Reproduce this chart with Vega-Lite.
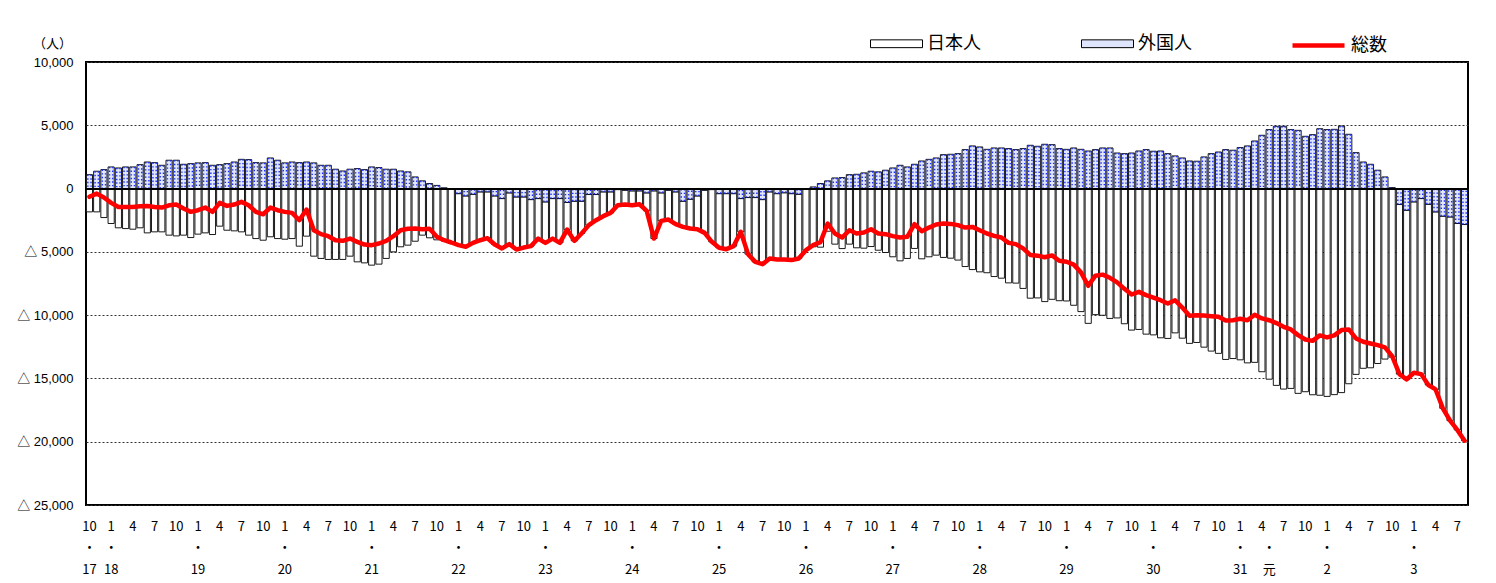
{
"$schema": "https://vega.github.io/schema/vega-lite/v6.json",
"width": 1382, "height": 443,
"autosize": {"type": "none"},
"padding": {"left": 86, "top": 62, "right": 28, "bottom": 78},
"background": "#ffffff",
"config": {"font": "Noto Sans CJK JP", "view": {"stroke": "#000000", "strokeWidth": 2},
"legend": {"labelFontSize": 18, "labelFont": "Noto Sans CJK JP", "labelColor": "#000000"}},
"datasets": {"d": [
{"month":"2005-10","japanese":-1840,"foreign":1100,"total":-650},
{"month":"2005-11","japanese":-1840,"foreign":1370,"total":-400},
{"month":"2005-12","japanese":-2290,"foreign":1500,"total":-710},
{"month":"2006-01","japanese":-2760,"foreign":1710,"total":-1130},
{"month":"2006-02","japanese":-3100,"foreign":1630,"total":-1450},
{"month":"2006-03","japanese":-3160,"foreign":1710,"total":-1450},
{"month":"2006-04","japanese":-3210,"foreign":1710,"total":-1450},
{"month":"2006-05","japanese":-3100,"foreign":1890,"total":-1400},
{"month":"2006-06","japanese":-3500,"foreign":2100,"total":-1370},
{"month":"2006-07","japanese":-3420,"foreign":2050,"total":-1450},
{"month":"2006-08","japanese":-3420,"foreign":1840,"total":-1500},
{"month":"2006-09","japanese":-3680,"foreign":2240,"total":-1320},
{"month":"2006-10","japanese":-3740,"foreign":2240,"total":-1260},
{"month":"2006-11","japanese":-3680,"foreign":1920,"total":-1580},
{"month":"2006-12","japanese":-3870,"foreign":1970,"total":-1840},
{"month":"2007-01","japanese":-3600,"foreign":2030,"total":-1710},
{"month":"2007-02","japanese":-3500,"foreign":2050,"total":-1500},
{"month":"2007-03","japanese":-3630,"foreign":1840,"total":-1840},
{"month":"2007-04","japanese":-2970,"foreign":1890,"total":-1130},
{"month":"2007-05","japanese":-3290,"foreign":1970,"total":-1370},
{"month":"2007-06","japanese":-3340,"foreign":2100,"total":-1260},
{"month":"2007-07","japanese":-3420,"foreign":2310,"total":-1050},
{"month":"2007-08","japanese":-3680,"foreign":2290,"total":-1320},
{"month":"2007-09","japanese":-3950,"foreign":2050,"total":-1840},
{"month":"2007-10","japanese":-4080,"foreign":2030,"total":-2030},
{"month":"2007-11","japanese":-3810,"foreign":2420,"total":-1500},
{"month":"2007-12","japanese":-3950,"foreign":2240,"total":-1710},
{"month":"2008-01","japanese":-4000,"foreign":2030,"total":-1840},
{"month":"2008-02","japanese":-3950,"foreign":2100,"total":-1920},
{"month":"2008-03","japanese":-4550,"foreign":2050,"total":-2500},
{"month":"2008-04","japanese":-3760,"foreign":2100,"total":-1660},
{"month":"2008-05","japanese":-5340,"foreign":2030,"total":-3290},
{"month":"2008-06","japanese":-5520,"foreign":1840,"total":-3600},
{"month":"2008-07","japanese":-5600,"foreign":1840,"total":-3760},
{"month":"2008-08","japanese":-5600,"foreign":1530,"total":-4080},
{"month":"2008-09","japanese":-5600,"foreign":1390,"total":-4130},
{"month":"2008-10","japanese":-5340,"foreign":1530,"total":-3950},
{"month":"2008-11","japanese":-5790,"foreign":1580,"total":-4210},
{"month":"2008-12","japanese":-5870,"foreign":1500,"total":-4420},
{"month":"2009-01","japanese":-6050,"foreign":1710,"total":-4470},
{"month":"2009-02","japanese":-5970,"foreign":1660,"total":-4340},
{"month":"2009-03","japanese":-5520,"foreign":1530,"total":-4130},
{"month":"2009-04","japanese":-5000,"foreign":1530,"total":-3760},
{"month":"2009-05","japanese":-4600,"foreign":1390,"total":-3290},
{"month":"2009-06","japanese":-4470,"foreign":1320,"total":-3180},
{"month":"2009-07","japanese":-4160,"foreign":920,"total":-3160},
{"month":"2009-08","japanese":-3680,"foreign":610,"total":-3210},
{"month":"2009-09","japanese":-3890,"foreign":400,"total":-3180},
{"month":"2009-10","japanese":-4050,"foreign":250,"total":-3800},
{"month":"2009-11","japanese":-4140,"foreign":60,"total":-4080},
{"month":"2009-12","japanese":-4200,"foreign":-60,"total":-4260},
{"month":"2010-01","japanese":-4070,"foreign":-400,"total":-4470},
{"month":"2010-02","japanese":-4020,"foreign":-580,"total":-4600},
{"month":"2010-03","japanese":-3840,"foreign":-450,"total":-4290},
{"month":"2010-04","japanese":-3820,"foreign":-260,"total":-4080},
{"month":"2010-05","japanese":-3660,"foreign":-260,"total":-3920},
{"month":"2010-06","japanese":-3840,"foreign":-580,"total":-4420},
{"month":"2010-07","japanese":-3940,"foreign":-790,"total":-4730},
{"month":"2010-08","japanese":-4050,"foreign":-340,"total":-4390},
{"month":"2010-09","japanese":-4150,"foreign":-660,"total":-4810},
{"month":"2010-10","japanese":-4000,"foreign":-660,"total":-4660},
{"month":"2010-11","japanese":-3680,"foreign":-870,"total":-4550},
{"month":"2010-12","japanese":-3160,"foreign":-790,"total":-3950},
{"month":"2011-01","japanese":-3240,"foreign":-1050,"total":-4290},
{"month":"2011-02","japanese":-3160,"foreign":-790,"total":-3950},
{"month":"2011-03","japanese":-3500,"foreign":-790,"total":-4290},
{"month":"2011-04","japanese":-2140,"foreign":-1100,"total":-3240},
{"month":"2011-05","japanese":-3130,"foreign":-1000,"total":-4130},
{"month":"2011-06","japanese":-2550,"foreign":-1000,"total":-3550},
{"month":"2011-07","japanese":-2420,"foreign":-470,"total":-2890},
{"month":"2011-08","japanese":-2030,"foreign":-470,"total":-2500},
{"month":"2011-09","japanese":-1920,"foreign":-260,"total":-2180},
{"month":"2011-10","japanese":-1660,"foreign":-260,"total":-1920},
{"month":"2011-11","japanese":-1240,"foreign":-80,"total":-1320},
{"month":"2011-12","japanese":-1130,"foreign":-130,"total":-1260},
{"month":"2012-01","japanese":-1140,"foreign":-180,"total":-1320},
{"month":"2012-02","japanese":-1060,"foreign":-180,"total":-1240},
{"month":"2012-03","japanese":-1420,"foreign":-340,"total":-1760},
{"month":"2012-04","japanese":-3770,"foreign":-180,"total":-3950},
{"month":"2012-05","japanese":-2210,"foreign":-340,"total":-2550},
{"month":"2012-06","japanese":-2320,"foreign":-130,"total":-2450},
{"month":"2012-07","japanese":-2550,"foreign":-260,"total":-2810},
{"month":"2012-08","japanese":-2030,"foreign":-1000,"total":-3030},
{"month":"2012-09","japanese":-2320,"foreign":-840,"total":-3160},
{"month":"2012-10","japanese":-2630,"foreign":-580,"total":-3210},
{"month":"2012-11","japanese":-3370,"foreign":-130,"total":-3500},
{"month":"2012-12","japanese":-4130,"foreign":-80,"total":-4210},
{"month":"2013-01","japanese":-4280,"foreign":-400,"total":-4680},
{"month":"2013-02","japanese":-4390,"foreign":-400,"total":-4790},
{"month":"2013-03","japanese":-4150,"foreign":-400,"total":-4550},
{"month":"2013-04","japanese":-2630,"foreign":-790,"total":-3420},
{"month":"2013-05","japanese":-4470,"foreign":-710,"total":-5180},
{"month":"2013-06","japanese":-5080,"foreign":-710,"total":-5790},
{"month":"2013-07","japanese":-5100,"foreign":-870,"total":-5970},
{"month":"2013-08","japanese":-5260,"foreign":-260,"total":-5520},
{"month":"2013-09","japanese":-5200,"foreign":-400,"total":-5600},
{"month":"2013-10","japanese":-5270,"foreign":-330,"total":-5600},
{"month":"2013-11","japanese":-5250,"foreign":-400,"total":-5650},
{"month":"2013-12","japanese":-5070,"foreign":-450,"total":-5520},
{"month":"2014-01","japanese":-4820,"foreign":-50,"total":-4870},
{"month":"2014-02","japanese":-4600,"foreign":130,"total":-4470},
{"month":"2014-03","japanese":-4630,"foreign":400,"total":-4230},
{"month":"2014-04","japanese":-3370,"foreign":610,"total":-2760},
{"month":"2014-05","japanese":-4390,"foreign":840,"total":-3550},
{"month":"2014-06","japanese":-4740,"foreign":870,"total":-3870},
{"month":"2014-07","japanese":-4390,"foreign":1100,"total":-3290},
{"month":"2014-08","japanese":-4680,"foreign":1130,"total":-3550},
{"month":"2014-09","japanese":-4710,"foreign":1240,"total":-3470},
{"month":"2014-10","japanese":-4580,"foreign":1370,"total":-3210},
{"month":"2014-11","japanese":-4870,"foreign":1320,"total":-3550},
{"month":"2014-12","japanese":-5050,"foreign":1450,"total":-3600},
{"month":"2015-01","japanese":-5390,"foreign":1630,"total":-3760},
{"month":"2015-02","japanese":-5710,"foreign":1840,"total":-3870},
{"month":"2015-03","japanese":-5520,"foreign":1710,"total":-3810},
{"month":"2015-04","japanese":-4730,"foreign":1920,"total":-2810},
{"month":"2015-05","japanese":-5550,"foreign":2180,"total":-3370},
{"month":"2015-06","japanese":-5390,"foreign":2310,"total":-3080},
{"month":"2015-07","japanese":-5260,"foreign":2420,"total":-2840},
{"month":"2015-08","japanese":-5440,"foreign":2680,"total":-2760},
{"month":"2015-09","japanese":-5500,"foreign":2710,"total":-2790},
{"month":"2015-10","japanese":-5650,"foreign":2760,"total":-2890},
{"month":"2015-11","japanese":-6160,"foreign":3080,"total":-3080},
{"month":"2015-12","japanese":-6400,"foreign":3370,"total":-3030},
{"month":"2016-01","japanese":-6580,"foreign":3290,"total":-3290},
{"month":"2016-02","japanese":-6650,"foreign":3100,"total":-3550},
{"month":"2016-03","japanese":-6950,"foreign":3210,"total":-3740},
{"month":"2016-04","japanese":-7080,"foreign":3210,"total":-3870},
{"month":"2016-05","japanese":-7450,"foreign":3160,"total":-4290},
{"month":"2016-06","japanese":-7470,"foreign":3080,"total":-4390},
{"month":"2016-07","japanese":-7890,"foreign":3160,"total":-4730},
{"month":"2016-08","japanese":-8660,"foreign":3420,"total":-5240},
{"month":"2016-09","japanese":-8640,"foreign":3340,"total":-5300},
{"month":"2016-10","japanese":-8930,"foreign":3500,"total":-5430},
{"month":"2016-11","japanese":-8750,"foreign":3470,"total":-5280},
{"month":"2016-12","japanese":-8860,"foreign":3160,"total":-5700},
{"month":"2017-01","japanese":-8880,"foreign":3100,"total":-5780},
{"month":"2017-02","japanese":-9220,"foreign":3210,"total":-6010},
{"month":"2017-03","japanese":-9720,"foreign":3100,"total":-6620},
{"month":"2017-04","japanese":-10650,"foreign":2970,"total":-7680},
{"month":"2017-05","japanese":-9960,"foreign":3080,"total":-6880},
{"month":"2017-06","japanese":-10010,"foreign":3210,"total":-6800},
{"month":"2017-07","japanese":-10260,"foreign":3210,"total":-7050},
{"month":"2017-08","japanese":-10220,"foreign":2810,"total":-7410},
{"month":"2017-09","japanese":-10680,"foreign":2760,"total":-7920},
{"month":"2017-10","japanese":-11180,"foreign":2810,"total":-8370},
{"month":"2017-11","japanese":-11130,"foreign":2970,"total":-8160},
{"month":"2017-12","japanese":-11500,"foreign":3080,"total":-8420},
{"month":"2018-01","japanese":-11560,"foreign":2950,"total":-8610},
{"month":"2018-02","japanese":-11790,"foreign":2970,"total":-8820},
{"month":"2018-03","japanese":-11840,"foreign":2760,"total":-9080},
{"month":"2018-04","japanese":-11400,"foreign":2580,"total":-8820},
{"month":"2018-05","japanese":-11820,"foreign":2420,"total":-9400},
{"month":"2018-06","japanese":-12230,"foreign":2180,"total":-10050},
{"month":"2018-07","japanese":-12160,"foreign":2160,"total":-10000},
{"month":"2018-08","japanese":-12530,"foreign":2500,"total":-10030},
{"month":"2018-09","japanese":-12840,"foreign":2760,"total":-10080},
{"month":"2018-10","japanese":-13020,"foreign":2890,"total":-10130},
{"month":"2018-11","japanese":-13500,"foreign":3080,"total":-10420},
{"month":"2018-12","japanese":-13430,"foreign":3030,"total":-10400},
{"month":"2019-01","japanese":-13530,"foreign":3240,"total":-10290},
{"month":"2019-02","japanese":-13770,"foreign":3370,"total":-10400},
{"month":"2019-03","japanese":-13730,"foreign":3760,"total":-9970},
{"month":"2019-04","japanese":-14470,"foreign":4210,"total":-10260},
{"month":"2019-05","japanese":-15060,"foreign":4660,"total":-10400},
{"month":"2019-06","japanese":-15550,"foreign":4920,"total":-10630},
{"month":"2019-07","japanese":-15840,"foreign":4920,"total":-10920},
{"month":"2019-08","japanese":-15790,"foreign":4660,"total":-11130},
{"month":"2019-09","japanese":-16180,"foreign":4600,"total":-11580},
{"month":"2019-10","japanese":-16050,"foreign":4130,"total":-11920},
{"month":"2019-11","japanese":-16290,"foreign":4260,"total":-12030},
{"month":"2019-12","japanese":-16330,"foreign":4730,"total":-11600},
{"month":"2020-01","japanese":-16420,"foreign":4660,"total":-11760},
{"month":"2020-02","japanese":-16280,"foreign":4680,"total":-11600},
{"month":"2020-03","japanese":-16120,"foreign":4940,"total":-11180},
{"month":"2020-04","japanese":-15420,"foreign":4290,"total":-11130},
{"month":"2020-05","japanese":-14680,"foreign":2840,"total":-11840},
{"month":"2020-06","japanese":-14200,"foreign":2100,"total":-12100},
{"month":"2020-07","japanese":-14160,"foreign":1920,"total":-12240},
{"month":"2020-08","japanese":-13820,"foreign":1450,"total":-12370},
{"month":"2020-09","japanese":-13470,"foreign":920,"total":-12550},
{"month":"2020-10","japanese":-13320,"foreign":80,"total":-13240},
{"month":"2020-11","japanese":-13400,"foreign":-1260,"total":-14660},
{"month":"2020-12","japanese":-13370,"foreign":-1710,"total":-15080},
{"month":"2021-01","japanese":-13500,"foreign":-1050,"total":-14550},
{"month":"2021-02","japanese":-13870,"foreign":-790,"total":-14660},
{"month":"2021-03","japanese":-14280,"foreign":-1240,"total":-15520},
{"month":"2021-04","japanese":-14030,"foreign":-1840,"total":-15870},
{"month":"2021-05","japanese":-15180,"foreign":-2180,"total":-17360},
{"month":"2021-06","japanese":-16100,"foreign":-2240,"total":-18340},
{"month":"2021-07","japanese":-16310,"foreign":-2760,"total":-19070},
{"month":"2021-08","japanese":-17080,"foreign":-2840,"total":-19920}
]},
"data": {"name": "d"},
"layer": [
{
"transform": [{"fold": ["japanese", "foreign"], "as": ["series", "value"]}],
"mark": {"type": "bar", "stroke": "#000000", "strokeWidth": 0.9},
"encoding": {
"x": {"field": "month", "type": "ordinal", "scale": {"paddingInner": 0.15, "paddingOuter": 0.05},
"axis": {"title": null, "labelAngle": 0, "ticks": false, "domain": false, "grid": false, "labelPadding": 15, "labelLineHeight": 21.5, "labelFontSize": 13, "labelFont": "Liberation Sans Narrow, Noto Sans CJK JP", "labelColor": "#000000", "labelOverlap": false, "labelBound": false, "labelFlush": false, "labelAlign": "center", "labelBaseline": "top",
"labelExpr": "[ (toNumber(substring(datum.value,5,7)) % 3 == 1) ? toString(toNumber(substring(datum.value,5,7))) : '', (substring(datum.value,5,7) == '01' || datum.value == '2005-10' || datum.value == '2019-05') ? '・' : '', datum.value == '2005-10' ? '17' : (datum.value == '2019-05' ? '元' : (substring(datum.value,5,7) == '01' ? (toNumber(substring(datum.value,0,4)) <= 2019 ? toString(toNumber(substring(datum.value,0,4)) - 1988) : toString(toNumber(substring(datum.value,0,4)) - 2018)) : '')) ]"}},
"y": {"field": "value", "type": "quantitative", "stack": "zero", "title": "（人）",
"scale": {"domain": [-25000, 10000], "nice": false, "zero": false},
"axis": {"values": [-25000, -20000, -15000, -10000, -5000, 0, 5000, 10000], "labelExpr": "datum.value < 0 ? '△ ' + format(-datum.value, ',') : format(datum.value, ',')", "grid": true, "gridDash": [2, 2], "gridColor": "#333333", "gridWidth": 1, "ticks": false, "domain": false, "labelFontSize": 13, "labelFont": "Liberation Sans, Noto Sans CJK JP", "labelColor": "#000000", "labelPadding": 13, "titleAngle": 0, "titleX": -34, "titleY": -19, "titleFontSize": 13, "titleFont": "Noto Sans CJK JP", "titleFontWeight": "normal", "titleAlign": "center", "titleBaseline": "middle", "titleColor": "#000000"}},
"color": {"field": "series", "type": "nominal",
"scale": {"domain": ["japanese", "foreign"], "range": ["#ffffff", "#dfe5fc"]},
"legend": {"title": null, "orient": "none", "legendX": 784, "legendY": -45, "direction": "horizontal", "columns": 2, "symbolType": "M-1,-0.15H1V0.15H-1Z", "symbolSize": 2704, "symbolStrokeColor": "#000000", "symbolStrokeWidth": 1, "labelOffset": 4, "columnPadding": 98,
"labelExpr": "datum.value == 'japanese' ? '日本人' : '外国人'"}},
"order": {"field": "series", "sort": "ascending"}
}
},
{
"mark": {"type": "rule", "color": "#1a2cff", "strokeWidth": 1.4, "strokeDash": [1.4, 2.2], "xOffset": -1.6},
"encoding": {"x": {"field": "month", "type": "ordinal"}, "y": {"field": "foreign", "type": "quantitative", "title": "（人）"}, "y2": {"datum": 0}}
},
{
"mark": {"type": "rule", "color": "#1a2cff", "strokeWidth": 1.4, "strokeDash": [1.4, 2.2], "xOffset": 1.6},
"encoding": {"x": {"field": "month", "type": "ordinal"}, "y": {"field": "foreign", "type": "quantitative", "title": "（人）"}, "y2": {"datum": 0}}
},
{
"mark": {"type": "rule", "color": "#000000", "strokeWidth": 1},
"encoding": {"y": {"datum": 0, "type": "quantitative", "title": "（人）"}}
},
{
"mark": {"type": "line", "strokeWidth": 4.5, "strokeJoin": "round", "strokeCap": "round"},
"encoding": {"x": {"field": "month", "type": "ordinal"}, "y": {"field": "total", "type": "quantitative", "title": "（人）"},
"stroke": {"datum": "total", "type": "nominal", "scale": {"domain": ["total"], "range": ["#ff0000"]},
"legend": {"title": null, "orient": "none", "legendX": 1204, "legendY": -45, "symbolType": "stroke", "symbolSize": 2704, "symbolStrokeWidth": 4.5, "labelOffset": 4, "labelExpr": "'総数'"}}}
}
]
}
